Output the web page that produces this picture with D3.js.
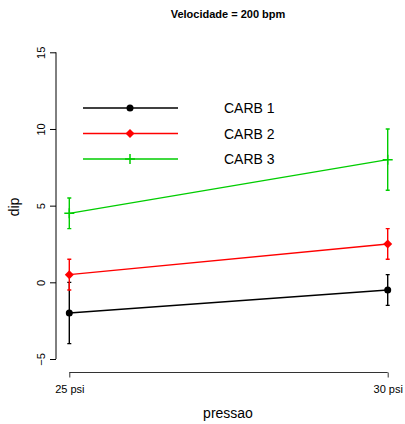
<!DOCTYPE html>
<html><head><meta charset="utf-8">
<script src="https://cdn.jsdelivr.net/npm/d3@7"></script>
<style>body{margin:0;background:#fff}svg{display:block;font-family:"Liberation Sans",Arial,sans-serif}</style>
</head><body>
<script>
const title = "Velocidade = 200 bpm";
const xLabels = ["25 psi", "30 psi"];
const yTicks = [-5, 0, 5, 10, 15];
const seriesNames = ["CARB 1", "CARB 2", "CARB 3"];
const seriesColors = ["#000000", "#ff0000", "#00cd00"];
const carb1Mean = [-2, -0.5];
const carb1Lo = [-4, -1.5];
const carb1Hi = [0, 0.5];
const carb2Mean = [0.5, 2.5];
const carb2Lo = [-0.5, 1.5];
const carb2Hi = [1.5, 3.5];
const carb3Mean = [4.5, 8];
const carb3Lo = [3.5, 6];
const carb3Hi = [5.5, 10];

const series = [
  {name: seriesNames[0], color: seriesColors[0], mean: carb1Mean, lo: carb1Lo, hi: carb1Hi, shape: "circle"},
  {name: seriesNames[1], color: seriesColors[1], mean: carb2Mean, lo: carb2Lo, hi: carb2Hi, shape: "diamond"},
  {name: seriesNames[2], color: seriesColors[2], mean: carb3Mean, lo: carb3Lo, hi: carb3Hi, shape: "plus"}
];

const W = 405, H = 424;
const svg = d3.select("body").append("svg").attr("width", W).attr("height", H);

const x = d3.scalePoint().domain(xLabels).range([69.3, 387.7]);
const y = d3.scaleLinear().domain([-5, 15]).range([359, 52.3]);

// title
svg.append("text").attr("x", 228).attr("y", 18).attr("text-anchor", "middle")
  .attr("font-size", 11).attr("font-weight", "bold").text(title);

// y axis
const yAxis = svg.append("g").attr("transform", "translate(56,0)")
  .call(d3.axisLeft(y).tickValues(yTicks).tickSize(6).tickFormat(d => d < 0 ? "\u2212" + Math.abs(d) : d));
yAxis.select(".domain").attr("d", `M-6,${y(-5)}H0V${y(15)}H-6`).attr("stroke", "#000");
yAxis.selectAll(".tick line").attr("stroke", "#000");
yAxis.selectAll(".tick text").attr("font-size", 11).attr("fill", "#000")
  .attr("transform", function(d){ return `translate(-10,${0}) rotate(-90)`; })
  .attr("x", 0).attr("dy", 0).attr("y", 0)
  .attr("text-anchor", "middle")
  .attr("dominant-baseline", "auto");
yAxis.selectAll(".tick text").attr("transform", "rotate(-90)").attr("x", 0).attr("y", -11);
yAxis.select(".domain").attr("d", `M0,${y(-5)}V${y(15)}`);

// x axis
const xAxis = svg.append("g").attr("transform", "translate(0,372.5)")
  .call(d3.axisBottom(x).tickSize(6).tickSizeOuter(0));
xAxis.select(".domain").attr("d", `M${x(xLabels[0])},0H${x(xLabels[1])}`).attr("stroke", "#333");
xAxis.selectAll(".tick line").attr("stroke", "#333").attr("y1", 0).attr("y2", 5);
xAxis.selectAll(".tick text").attr("font-size", 11).attr("fill", "#000").attr("y", 20).attr("dy", 0);

// axis labels
svg.append("text").attr("x", 228).attr("y", 418).attr("text-anchor", "middle")
  .attr("font-size", 14).text("pressao");
svg.append("text").attr("transform", "translate(19,207) rotate(-90)").attr("text-anchor", "middle")
  .attr("font-size", 14).text("dip");

function marker(g, shape, color, cx, cy) {
  if (shape === "circle") {
    g.append("circle").attr("cx", cx).attr("cy", cy).attr("r", 3.5).attr("fill", color);
  } else if (shape === "diamond") {
    g.append("path").attr("d", `M${cx},${cy-4.5}L${cx+4.5},${cy}L${cx},${cy+4.5}L${cx-4.5},${cy}Z`).attr("fill", color);
  } else {
    g.append("path").attr("d", `M${cx-5},${cy}H${cx+5}M${cx},${cy-5}V${cy+5}`).attr("stroke", color).attr("stroke-width", 1.5);
  }
}

const line = d3.line().x((d, i) => x(xLabels[i])).y(d => y(d));

series.forEach(s => {
  const g = svg.append("g");
  g.append("path").datum(s.mean).attr("d", line).attr("fill", "none")
    .attr("stroke", s.color).attr("stroke-width", 1.4);
  xLabels.forEach((lab, i) => {
    const cx = x(lab);
    g.append("path")
      .attr("d", `M${cx},${y(s.lo[i])}V${y(s.hi[i])}M${cx-2},${y(s.lo[i])}H${cx+2}M${cx-2},${y(s.hi[i])}H${cx+2}`)
      .attr("stroke", s.color).attr("stroke-width", 1.4).attr("fill", "none");
    marker(g, s.shape, s.color, cx, y(s.mean[i]));
  });
});

// legend
const legendY = [108, 133.5, 159];
series.forEach((s, i) => {
  const g = svg.append("g");
  g.append("line").attr("x1", 83).attr("x2", 178).attr("y1", legendY[i]).attr("y2", legendY[i])
    .attr("stroke", s.color).attr("stroke-width", 1.5);
  marker(g, s.shape, s.color, 130, legendY[i]);
  g.append("text").attr("x", 224).attr("y", legendY[i] + 5).attr("font-size", 14).text(s.name);
});
</script>
</body></html>
